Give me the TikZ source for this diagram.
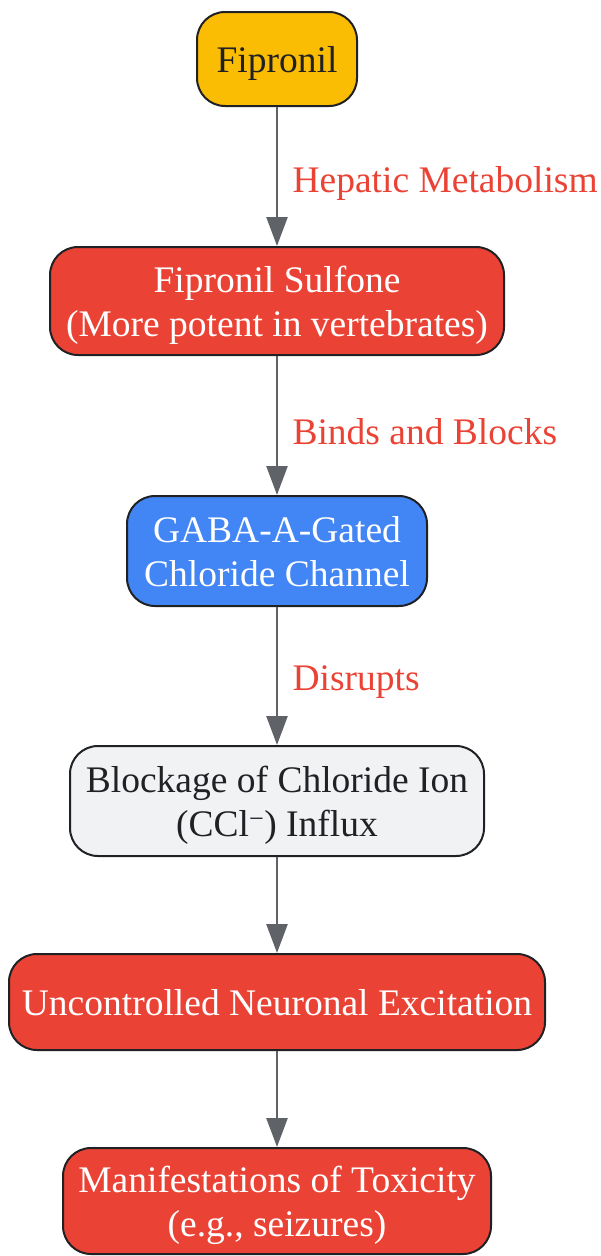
\documentclass[tikz,border=0pt]{standalone}
\usepackage{fontspec}
\setmainfont{Liberation Serif}
\usetikzlibrary{arrows.meta}
\definecolor{gyellow}{HTML}{FBBC04}
\definecolor{gred}{HTML}{EA4335}
\definecolor{gblue}{HTML}{4285F4}
\definecolor{ggrey}{HTML}{F1F2F4}
\definecolor{gdark}{HTML}{202124}
\definecolor{garrow}{HTML}{5F6368}
\tikzset{
  box/.style={draw=gdark, line width=2pt, rounded corners=28pt, align=center,
    inner sep=0pt, text depth=0pt, font=\fontsize{37.5}{44}\selectfont},
  flow/.style={draw=garrow, line width=2.5pt, -{Triangle[width=21pt,length=29pt]}},
  lbl/.style={anchor=west, text=gred, font=\fontsize{37.5}{44}\selectfont}
}
\begin{document}
\begin{tikzpicture}[x=1pt, y=-1pt]
    \useasboundingbox (0,0) rectangle (600,1256);

    % Cajas
    \node[box, fill=gyellow, text=gdark, minimum width=160pt, minimum height=94pt]
        (fip) at (277,59) {Fipronil};
    \node[box, fill=gred, text=white, minimum width=454pt, minimum height=108pt]
        (sulf) at (277,301) {Fipronil Sulfone\\(More potent in vertebrates)};
    \node[box, fill=gblue, text=white, minimum width=300pt, minimum height=110pt]
        (gaba) at (277,551) {GABA-A-Gated\\Chloride Channel};
    \node[box, fill=ggrey, text=gdark, minimum width=414pt, minimum height=110pt]
        (block) at (277,801) {Blockage of Chloride Ion\\(CCl\textsuperscript{\textminus}) Influx};
    \node[box, fill=gred, text=white, minimum width=536pt, minimum height=96pt]
        (exc) at (277,1002) {Uncontrolled Neuronal Excitation};
    \node[box, fill=gred, text=white, minimum width=428pt, minimum height=106pt]
        (tox) at (277,1201) {Manifestations of Toxicity\\(e.g., seizures)};

    % Flechas
    \draw[flow] (fip) -- (sulf);
    \draw[flow] (sulf) -- (gaba);
    \draw[flow] (gaba) -- (block);
    \draw[flow] (block) -- (exc);
    \draw[flow] (exc) -- (tox);

    % Etiquetas
    \node[lbl] (l1) at (289,183) {Hepatic Metabolism};
    \node[lbl] (l2) at (289,432) {Binds and Blocks};
    \node[lbl] (l3) at (289,682) {Disrupts};
\end{tikzpicture}
\end{document}
